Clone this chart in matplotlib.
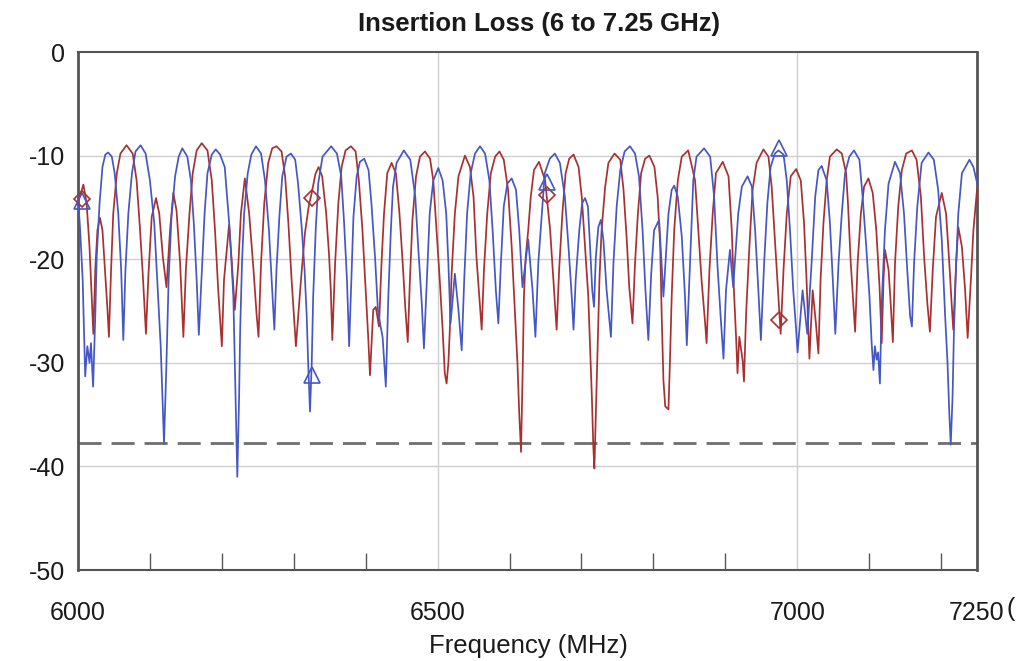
import matplotlib
matplotlib.use("Agg")
import matplotlib.pyplot as plt
from matplotlib.ticker import FixedLocator

plt.rcParams['font.family'] = ['Liberation Sans', 'DejaVu Sans']

title = "Insertion Loss (6 to 7.25 GHz)"
x_label = "Frequency (MHz)"
x_ticks = [6000, 6500, 7000, 7250]
y_ticks = [0, -10, -20, -30, -40, -50]
limit_db = -37.7

blue_freq = [6000, 6003, 6006.5, 6010, 6013, 6016, 6018, 6021, 6024, 6026, 6030, 6034, 6038, 6042, 6047,
             6051, 6056, 6060, 6063, 6066, 6070, 6075, 6080, 6087, 6094, 6100, 6106, 6110, 6115, 6119.6,
             6123, 6126, 6130, 6135, 6140, 6145, 6152, 6157, 6161, 6165, 6168, 6172, 6176, 6180, 6186,
             6191.5, 6197.5, 6204, 6211, 6216, 6219, 6221.5, 6224, 6225.5, 6228, 6231, 6236, 6241, 6247.5,
             6254.5, 6260, 6265.5, 6270, 6273, 6276, 6280, 6284, 6290, 6296, 6302, 6306, 6311, 6315, 6318,
             6320, 6322.6, 6325, 6327, 6330.5, 6334, 6340, 6352, 6360, 6366, 6370, 6374, 6377, 6380, 6383,
             6387.5, 6392, 6398, 6404, 6408, 6413, 6417, 6420, 6423.5, 6425.5, 6428, 6431.5, 6435, 6438,
             6443, 6453, 6462, 6469, 6473, 6478, 6481, 6485, 6489, 6494, 6501, 6507, 6512, 6515, 6518,
             6524, 6529, 6533.5, 6537, 6541, 6546, 6552, 6559, 6566, 6572, 6576.5, 6581, 6584.5, 6588,
             6592, 6597, 6603, 6609, 6613.5, 6618, 6626, 6632, 6636, 6640, 6645, 6649, 6656, 6663, 6670,
             6677, 6682, 6686.5, 6689, 6692, 6697, 6701, 6705, 6709, 6712, 6715, 6717.5, 6720, 6723.5,
             6727, 6730.5, 6735, 6741, 6744.5, 6749, 6754, 6760, 6767.5, 6774.5, 6780, 6785, 6789, 6793,
             6797, 6801, 6808, 6814, 6821, 6825.5, 6829, 6834, 6839.5, 6844, 6846.5, 6851, 6855.5, 6860,
             6870.5, 6879, 6884.5, 6889, 6893.5, 6897.5, 6901, 6906.5, 6911, 6918, 6923, 6931, 6937,
             6941.5, 6946, 6949.5, 6954, 6958.5, 6963, 6969, 6974, 6981, 6985.5, 6990, 6994.5, 6998.5,
             7000.5, 7007.5, 7014, 7020, 7025, 7029.5, 7034, 7041, 7045.5, 7049.5, 7053, 7057.5, 7062,
             7066.5, 7072.5, 7079, 7086.5, 7091, 7096, 7100.5, 7103.5, 7106, 7108, 7110.5, 7112.5, 7115,
             7117.5, 7122, 7127, 7136, 7143, 7148.5, 7153, 7157, 7159.5, 7162.5, 7167, 7173, 7182.5, 7190,
             7196, 7201, 7205.5, 7209, 7211.5, 7213.5, 7216, 7218, 7221, 7224, 7229, 7239.5, 7245, 7250]
blue_db = [-14.0, -17.2, -22.0, -31.3, -28.4, -30.0, -28.1, -32.3, -25.5, -19.8, -14.6, -11.1, -9.9, -9.7, -10.1,
           -11.7, -15.6, -21.0, -27.8, -21.0, -15.6, -11.7, -9.6, -9.0, -9.8, -12.4, -16.5, -21.7, -28.4, -37.8,
           -30.0, -22.0, -15.9, -12.0, -10.1, -9.3, -10.1, -12.4, -16.5, -22.0, -27.3, -21.4, -15.6, -11.7, -9.9,
           -9.4, -9.9, -11.1, -17.2, -23.6, -33.3, -41.0, -33.3, -26.8, -20.4, -15.6, -11.7, -9.9, -9.1,
           -9.8, -12.4, -17.2, -23.0, -26.8, -21.0, -15.9, -12.0, -10.1, -9.8, -10.4, -12.7, -16.9, -21.0, -25.5,
           -30.0, -34.7, -30.0, -23.6, -17.2, -12.7, -10.1, -9.1, -9.8, -12.0, -16.5, -22.0, -28.4, -22.0, -15.9,
           -12.0, -10.6, -10.3, -11.4, -14.6, -19.8, -24.9, -26.2, -27.5, -29.7, -32.3, -23.6, -17.2, -13.0,
           -10.7, -9.5, -10.4, -14.0, -18.8, -24.3, -28.6, -22.0, -15.6, -12.4, -11.2, -12.4, -15.6, -20.4, -26.2,
           -21.4, -24.9, -28.8, -22.0, -15.6, -11.7, -9.8, -9.1, -9.8, -12.4, -17.2, -23.0, -26.2, -20.4,
           -14.9, -12.7, -12.2, -13.3, -17.2, -22.7, -18.1, -23.0, -27.5, -20.4, -15.6, -11.7, -10.3, -9.8, -10.7,
           -14.0, -18.8, -23.6, -26.8, -22.0, -17.2, -14.6, -14.1, -14.9, -18.8, -23.0, -24.6, -19.8, -16.9,
           -16.2, -18.1, -23.0, -27.5, -20.4, -14.9, -11.4, -9.6, -9.1, -9.8, -12.0, -17.2, -23.0, -27.8,
           -21.4, -17.2, -16.2, -23.6, -15.6, -13.3, -12.9, -14.0, -17.8, -23.6, -28.3, -20.4, -12.4, -10.1,
           -9.3, -10.1, -14.0, -20.4, -25.5, -29.6, -23.0, -19.1, -22.7, -15.6, -13.0, -12.0, -13.0,
           -17.2, -23.0, -27.8, -20.4, -14.6, -11.1, -9.8, -9.5, -9.9, -12.4, -17.2, -23.0, -26.8,
           -29.0, -23.0, -27.2, -20.4, -14.0, -11.4, -11.0, -12.4, -16.5, -22.0, -27.2, -20.4, -15.6,
           -11.7, -10.1, -9.5, -10.4, -14.0, -18.8, -23.6, -28.1, -30.7, -28.4, -29.7, -29.0, -32.0,
           -24.3, -17.2, -12.7, -10.6, -11.7, -15.6, -21.0, -25.5, -26.5, -20.4, -14.9, -10.7, -9.7, -10.4,
           -13.3, -18.1, -25.2, -30.0, -34.9, -37.9, -33.3, -26.8, -20.4, -15.6, -11.7, -10.4, -11.1, -12.6]

red_freq = [6000, 6007.5, 6012, 6016, 6019, 6021.3, 6024, 6027, 6030.5, 6034, 6037.5, 6041, 6043, 6046, 6049,
            6054, 6059, 6067.5, 6076, 6081.5, 6086, 6090, 6094.5, 6098, 6102.5, 6108.5, 6113, 6118, 6123,
            6128, 6132.5, 6137, 6142, 6146.5, 6150, 6155, 6159.5, 6165, 6172, 6180, 6186, 6190.5, 6195,
            6200, 6203, 6210, 6214, 6218, 6223, 6226.5, 6232, 6238, 6244, 6248.5, 6251, 6254.5, 6259,
            6264.5, 6270, 6276, 6283, 6288, 6292.5, 6297, 6301, 6303, 6310, 6315.5, 6321, 6325, 6330,
            6334.5, 6339.5, 6345, 6349, 6351.5, 6353.6, 6357.5, 6362, 6366.5, 6372, 6379.5, 6386, 6390.5,
            6395.5, 6400, 6403.5, 6406, 6410.5, 6414, 6418.5, 6422, 6425.5, 6430, 6436, 6442, 6447, 6451.5,
            6455, 6458.5, 6461.5, 6465, 6470, 6475.5, 6482.5, 6489.5, 6494, 6498.5, 6503, 6507, 6510,
            6512.5, 6515, 6517, 6519.5, 6524, 6529, 6538, 6545, 6550, 6554, 6558, 6561.3, 6564.5, 6569,
            6574, 6580, 6586, 6592, 6598, 6603, 6607.5, 6611, 6613.5, 6616, 6618.5, 6620, 6622.5, 6626,
            6629.5, 6634, 6641, 6649.5, 6656.5, 6661, 6665.5, 6669, 6673.5, 6678, 6683, 6689, 6696,
            6700.5, 6705, 6709.5, 6712, 6714.5, 6716.5, 6718, 6720, 6722.5, 6725, 6728, 6733, 6737.5,
            6746, 6754, 6758.5, 6763, 6766.5, 6771, 6774.5, 6778.5, 6783, 6788.5, 6794.5, 6801.5, 6806,
            6809.5, 6811.5, 6814, 6816.5, 6821, 6823, 6825.5, 6829, 6834, 6839.5, 6848.5, 6858, 6862.5,
            6867, 6872, 6874, 6878, 6882.5, 6887, 6896.5, 6904.5, 6909, 6912, 6915, 6917, 6919.5, 6924,
            6926, 6929, 6933.5, 6938, 6943.5, 6953, 6960, 6964.5, 6969, 6974, 6977, 6981, 6985.5, 6991,
            6998.5, 7005, 7009.5, 7013, 7015.5, 7017, 7021.5, 7026, 7029.5, 7032.5, 7036.5, 7041, 7045.5,
            7055, 7062, 7068, 7070.5, 7074.5, 7078, 7080.5, 7084, 7088.5, 7093, 7099, 7105, 7110, 7114.5,
            7117.5, 7120, 7122, 7127, 7130, 7133, 7136, 7140.5, 7145.5, 7151.5, 7159.5, 7166, 7172,
            7176.5, 7181, 7184.5, 7188.5, 7193, 7201, 7207, 7211.5, 7215, 7217, 7221, 7224, 7229, 7233.5,
            7237, 7241.5, 7245, 7250]
red_db = [-14.5, -12.8, -14.6, -18.8, -23.6, -27.2, -21.0, -17.2, -16.0, -17.2, -21.0, -24.9, -27.5, -21.0, -15.6,
          -11.7, -9.8, -9.0, -9.8, -12.4, -16.9, -21.4, -27.2, -21.4, -15.9, -14.1, -15.6, -19.8, -22.7,
          -17.2, -13.6, -15.3, -20.4, -27.5, -21.0, -15.6, -11.7, -9.5, -8.8, -9.5, -12.4, -17.2, -23.0,
          -28.4, -22.0, -16.7, -20.4, -24.9, -20.4, -15.6, -12.2, -15.6, -21.0, -25.5, -27.5, -20.4, -14.6,
          -10.7, -9.3, -9.1, -9.6, -12.0, -16.5, -22.0, -26.2, -28.4, -22.0, -17.5, -14.8, -13.6, -11.8,
          -11.1, -12.0, -15.5, -19.5, -23.0, -27.8, -20.4, -14.6, -11.1, -9.5, -9.1, -9.6, -12.4,
          -17.2, -23.0, -27.5, -31.2, -24.9, -24.6, -26.5, -20.4, -15.6, -11.7, -10.7, -11.7, -15.6, -20.4,
          -24.6, -28.0, -22.0, -16.2, -12.0, -10.1, -9.6, -10.3, -12.4, -17.2, -22.0, -26.8, -31.0,
          -32.0, -30.0, -26.8, -21.4, -15.6, -12.0, -10.0, -11.1, -14.0, -19.8, -23.6, -26.8, -21.0, -15.6,
          -11.7, -10.1, -9.6, -10.4, -13.3, -18.8, -25.2, -30.0, -34.9, -38.6, -30.0, -23.6, -19.8, -17.2,
          -14.0, -11.4, -10.6, -12.4, -17.2, -22.0, -26.8, -21.0, -15.6, -11.7, -10.3, -9.9, -11.1,
          -14.0, -18.8, -23.6, -28.4, -33.3, -38.1, -40.2, -34.9, -28.4, -22.0, -17.2, -13.0, -10.7,
          -9.8, -10.4, -13.3, -18.1, -22.7, -26.2, -20.4, -15.6, -11.7, -10.3, -10.0, -11.1, -14.0,
          -18.8, -25.2, -31.7, -34.2, -34.5, -30.0, -23.6, -17.2, -12.4, -10.1, -9.5, -12.4, -17.2,
          -22.0, -26.2, -28.1, -21.0, -15.6, -11.7, -10.6, -12.0, -17.2, -23.0, -27.5, -31.0, -27.5, -29.7,
          -31.8, -25.2, -18.8, -13.3, -10.7, -9.4, -10.1, -13.0, -18.1, -23.6, -27.2, -21.0, -15.6, -12.0,
          -11.3, -12.4, -16.5, -22.0, -26.8, -29.6, -23.0, -26.2, -29.1, -22.0, -16.5, -12.4, -10.1,
          -9.4, -9.8, -11.7, -14.5, -20.4, -24.3, -27.0, -20.4, -15.6, -13.0, -12.2, -13.6, -17.2, -22.7,
          -28.1, -22.0, -19.1, -21.0, -24.3, -28.0, -20.4, -14.9, -11.4, -9.8, -9.5, -10.4, -14.0,
          -19.8, -24.3, -27.0, -21.0, -15.9, -13.6, -15.6, -20.4, -24.6, -26.8, -20.4, -16.9, -18.8, -23.0,
          -27.6, -22.0, -17.2, -13.3]

blue_marker_freq = [6006, 6326, 6652, 6975]
blue_marker_db = [-14.4, -31.2, -12.5, -9.3]
red_marker_freq = [6006, 6326, 6652, 6975]
red_marker_db = [-14.2, -14.1, -13.8, -25.9]

blue_color = '#4457c2'
red_color = '#a83030'

fig = plt.figure(figsize=(10.18, 6.61), dpi=100)
ax = fig.add_axes([78 / 1018, 1 - 570 / 661, (977 - 78) / 1018, (570 - 52) / 661])

for v in [-10, -20, -30, -40]:
    ax.axhline(v, color='#cfcfcf', lw=1.0, zorder=1)
for v in [6500, 7000]:
    ax.axvline(v, color='#cfcfcf', lw=1.0, zorder=1)
ax.axhline(limit_db, color='#6e6e6e', lw=2.0, dashes=(8.3, 3.6), zorder=2)

ax.plot(red_freq, red_db, color=red_color, lw=1.25, zorder=3)
ax.plot(blue_freq, blue_db, color=blue_color, lw=1.25, zorder=4)
ax.plot(red_marker_freq, red_marker_db, linestyle='none', marker='D', markersize=8,
        markerfacecolor='none', markeredgecolor=red_color, markeredgewidth=1.2, zorder=5, clip_on=False)
ax.plot(blue_marker_freq, blue_marker_db, linestyle='none', marker='^', markersize=11,
        markerfacecolor='none', markeredgecolor=blue_color, markeredgewidth=1.2, zorder=6, clip_on=False)

ax.set_xlim(6000, 7250)
ax.set_ylim(-50, 0)
ax.set_xticks(x_ticks)
ax.set_xticklabels([str(t) for t in x_ticks])
ax.set_yticks(y_ticks)
ax.set_yticklabels([str(t) for t in y_ticks])
ax.xaxis.set_minor_locator(FixedLocator(list(range(6100, 7250, 100))))
ax.tick_params(axis='x', which='major', length=0, pad=22, labelsize=18, labelcolor='#1a1a1a')
ax.tick_params(axis='x', which='minor', direction='in', length=12, width=1.0, color='#555555',
               top=False, bottom=True)
ax.tick_params(axis='y', which='major', length=0, pad=9, labelsize=18, labelcolor='#1a1a1a')

for side in ['left', 'right', 'top', 'bottom']:
    ax.spines[side].set_color('#555555')
ax.spines['left'].set_linewidth(2.0)
ax.spines['right'].set_linewidth(2.0)
ax.spines['top'].set_linewidth(1.5)
ax.spines['bottom'].set_linewidth(1.5)

fig.text(538.5 / 1018, 1 - 24 / 661, title, ha='center', va='center',
         fontsize=18.5, fontweight='bold', color='#1a1a1a')
fig.text(528 / 1018, 1 - 646 / 661, x_label, ha='center', va='center',
         fontsize=18.5, color='#1a1a1a')
fig.text(1007 / 1018, 1 - 609 / 661, "(", ha='left', va='center', fontsize=18, color='#1a1a1a')

fig.savefig("out.png", dpi=100)
